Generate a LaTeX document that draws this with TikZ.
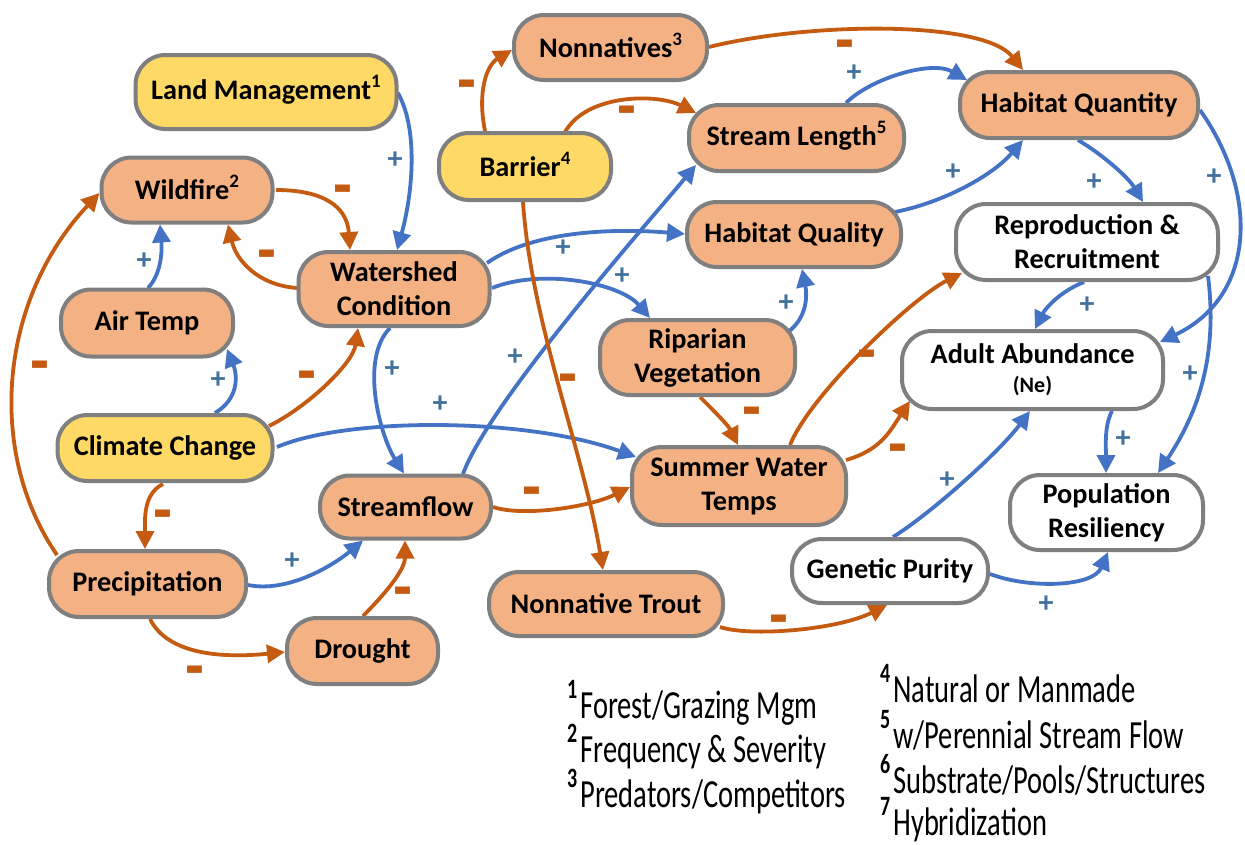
\documentclass[tikz,border=0pt]{standalone}
\usepackage{fontspec}
\setmainfont{Carlito}
\usepackage{graphicx}
\usetikzlibrary{arrows.meta,calc,backgrounds}
\definecolor{nodeorange}{RGB}{244,177,131}
\definecolor{nodeyellow}{RGB}{255,217,102}
\definecolor{bordergray}{RGB}{127,127,127}
\definecolor{edgeorange}{RGB}{197,90,17}
\definecolor{edgeblue}{RGB}{68,114,196}
\definecolor{plusblue}{RGB}{65,113,156}
\newcommand\nsup[1]{\smash{\raisebox{12pt}{\fontsize{19}{19}\selectfont #1}}}
\newcommand\legsup[1]{\smash{\raisebox{14pt}{\fontsize{20}{20}\selectfont\bfseries #1}}}
\newcommand\mneg{\smash{\raisebox{-20.5pt}{\scalebox{1.5}[3]{\bfseries\fontsize{28}{28}\selectfont –}}}}
\tikzset{
  box/.style={draw=bordergray, line width=4pt, rounded corners=30pt, inner sep=0pt,
    align=center, font=\bfseries\fontsize{28.3}{34}\selectfont},
  obox/.style={box, fill=nodeorange},
  ybox/.style={box, fill=nodeyellow},
  wbox/.style={box, fill=white},
  posedge/.style={draw=edgeblue, line width=3.8pt, -{Triangle[length=18pt,width=18pt]}},
  negedge/.style={draw=edgeorange, line width=3.8pt, -{Triangle[length=18pt,width=18pt]}},
  plab/.style={text=plusblue, inner sep=0pt, font=\bfseries\fontsize{30}{30}\selectfont},
  nlab/.style={text=edgeorange, inner sep=0pt},
  legend/.style={anchor=base west, inner sep=0pt, font=\fontsize{28.5}{30}\selectfont}
}
\begin{document}
\begin{tikzpicture}[x=1pt,y=-1pt]
\useasboundingbox (0,0) rectangle (1245,844);
% nodes
\node[ybox, minimum width=261pt, minimum height=74pt] (LM) at (266,92) {Land Management\nsup{1}};
\node[obox, minimum width=171pt, minimum height=65pt] (WF) at (187,190) {Wildfire\nsup{2}};
\node[obox, minimum width=191pt, minimum height=74pt] (WC) at (394,289) {Watershed\\Condition};
\node[obox, minimum width=172pt, minimum height=67pt] (AT) at (147,323) {Air Temp};
\node[ybox, minimum width=215pt, minimum height=66pt] (CC) at (165,448) {Climate Change};
\node[obox, minimum width=197pt, minimum height=66pt] (PR) at (147.5,584) {Precipitation};
\node[obox, minimum width=151pt, minimum height=66pt] (DR) at (362.5,651) {Drought};
\node[obox, minimum width=171pt, minimum height=63pt] (SF) at (405.5,507) {Streamflow};
\node[ybox, minimum width=172pt, minimum height=67pt] (BA) at (525,166.5) {Barrier\nsup{4}};
\node[obox, minimum width=193pt, minimum height=65pt] (NN) at (610.5,47.5) {Nonnatives\nsup{3}};
\node[obox, minimum width=215pt, minimum height=66pt] (SL) at (796.5,138) {Stream Length\nsup{5}};
\node[obox, minimum width=214pt, minimum height=65pt] (HQ) at (794,234.5) {Habitat Quality};
\node[obox, minimum width=238pt, minimum height=66pt] (HQn) at (1079,105) {Habitat Quantity};
\node[wbox, minimum width=262pt, minimum height=76pt] (RR) at (1087,242) {Reproduction \&\\Recruitment};
\node[obox, minimum width=195pt, minimum height=75pt] (RV) at (697.5,357.5) {Riparian\\Vegetation};
\node[obox, minimum width=214pt, minimum height=78pt] (SWT) at (739,486) {Summer Water\\Temps};
\node[wbox, minimum width=261pt, minimum height=78pt] (AA) at (1032.5,370) {Adult Abundance\\[-5pt]{\fontsize{22}{22}\selectfont (Ne)}};
\node[wbox, minimum width=193pt, minimum height=75pt] (PRS) at (1106.5,512.5) {Population\\Resiliency};
\node[wbox, minimum width=196pt, minimum height=64pt] (GP) at (890,571) {Genetic Purity};
\node[obox, minimum width=234pt, minimum height=64pt] (NT) at (606,604) {Nonnative Trout};

\begin{pgfonlayer}{background}
\fill[white] (0,0) rectangle (1245,844);
\draw[posedge] ($(LM.center)+(132,1)$) .. controls +(22,40) and +(14,-50) .. ($(WC.center)+(3,-39)$);
\draw[negedge] ($(WF.center)+(89,0)$) .. controls +(45,0) and +(-3,-45) .. ($(WC.center)+(-44,-39)$);
\draw[negedge] ($(WC.center)+(-97,-1)$) .. controls +(-40,-3) and +(8,35) .. ($(WF.center)+(41,34.5)$);
\draw[posedge] ($(AT.center)+(1,-35)$) .. controls +(14,-15) and +(2,25) .. ($(WF.center)+(-27,34.5)$);
\draw[negedge] ($(PR.center)+(-90.5,-29)$) .. controls +(-72,-105) and +(-99,105) .. ($(WF.center)+(-87.5,3)$);
\draw[posedge] ($(CC.center)+(50,-35)$) .. controls +(25,-15) and +(10,25) .. ($(AT.center)+(80,26)$);
\draw[negedge] ($(CC.center)+(104,-22)$) .. controls +(40,-20) and +(-5,35) .. ($(WC.center)+(-36,39)$);
\draw[posedge] ($(CC.center)+(112,-1)$) .. controls +(70,-30) and +(-110,-40) .. ($(SWT.center)+(-103,-29)$);
\draw[negedge] ($(CC.center)+(-2,36)$) .. controls +(-20,10) and +(0,-30) .. ($(PR.center)+(-2.5,-35)$);
\draw[posedge] ($(PR.center)+(100.5,1)$) .. controls +(40,8) and +(-30,25) .. ($(SF.center)+(-42.5,33.5)$);
\draw[negedge] ($(PR.center)+(2.5,35)$) .. controls +(20,40) and +(-50,5) .. ($(DR.center)+(-77.5,1)$);
\draw[negedge] ($(DR.center)+(0.5,-35)$) .. controls +(20,-20) and +(0,30) .. ($(SF.center)+(-0.5,33.5)$);
\draw[posedge] ($(WC.center)+(-4,39)$) .. controls +(-30,30) and +(-25,-40) .. ($(SF.center)+(-1.5,-33.5)$);
\draw[posedge] ($(WC.center)+(93,-26)$) .. controls +(50,-35) and +(-60,-5) .. ($(HQ.center)+(-109,-0.5)$);
\draw[posedge] ($(WC.center)+(98,-1)$) .. controls +(50,-20) and +(-30,-35) .. ($(RV.center)+(-47.5,-39.5)$);
\draw[posedge] ($(SF.center)+(57.5,-33)$) .. controls +(25,-70) and +(-50,60) .. ($(SL.center)+(-100.5,27)$);
\draw[negedge] ($(SF.center)+(87.5,0)$) .. controls +(30,10) and +(-40,20) .. ($(SWT.center)+(-109,1)$);
\draw[negedge] ($(BA.center)+(-40,-35.5)$) .. controls +(-8,-40) and +(-25,15) .. ($(NN.center)+(-98.5,2.5)$);
\draw[negedge] ($(BA.center)+(39,-32.5)$) .. controls +(20,-40) and +(-40,-20) .. ($(SL.center)+(-100.5,-25)$);
\draw[negedge] ($(BA.center)+(-2,35.5)$) .. controls +(8,120) and +(-20,-120) .. ($(NT.center)+(-3,-34)$);
\draw[negedge] ($(NN.center)+(98.5,-0.5)$) .. controls +(100,-25) and +(-40,-50) .. ($(HQn.center)+(-56,-35)$);
\draw[posedge] ($(SL.center)+(49.5,-35)$) .. controls +(25,-25) and +(-35,-20) .. ($(HQn.center)+(-112,-25)$);
\draw[posedge] ($(HQ.center)+(101,-22.5)$) .. controls +(50,-10) and +(-30,35) .. ($(HQn.center)+(-56,35)$);
\draw[posedge] ($(RV.center)+(90.5,-25.5)$) .. controls +(20,-15) and +(5,25) .. ($(HQ.center)+(8,34.5)$);
\draw[negedge] ($(RV.center)+(2.5,39.5)$) .. controls +(15,15) and +(-10,-20) .. ($(SWT.center)+(-1,-41)$);
\draw[negedge] ($(SWT.center)+(51,-41)$) .. controls +(20,-50) and +(-50,25) .. ($(RR.center)+(-125,31)$);
\draw[negedge] ($(SWT.center)+(107,-26)$) .. controls +(35,-10) and +(-20,30) .. ($(AA.center)+(-122.5,31)$);
\draw[posedge] ($(HQn.center)+(-1,35)$) .. controls +(25,15) and +(-15,-25) .. ($(RR.center)+(56,-40)$);
\draw[posedge] ($(HQn.center)+(121,5)$) .. controls +(60,85) and +(95,-45) .. ($(AA.center)+(127.5,-28)$);
\draw[posedge] ($(RR.center)+(-3,40)$) .. controls +(-25,10) and +(10,-20) .. ($(AA.center)+(2.5,-41)$);
\draw[posedge] ($(RR.center)+(121,34)$) .. controls +(10,80) and +(40,-60) .. ($(PRS.center)+(51.5,-39.5)$);
\draw[posedge] ($(AA.center)+(79.5,41)$) .. controls +(-8,15) and +(0,-25) .. ($(PRS.center)+(-0.5,-39.5)$);
\draw[posedge] ($(GP.center)+(3,-34)$) .. controls +(40,-25) and +(-30,40) .. ($(AA.center)+(-2.5,41)$);
\draw[posedge] ($(GP.center)+(100,3)$) .. controls +(40,15) and +(-15,35) .. ($(PRS.center)+(1.5,39.5)$);
\draw[negedge] ($(NT.center)+(114,23)$) .. controls +(30,10) and +(-50,25) .. ($(GP.center)+(-3,34)$);
\end{pgfonlayer}

% sign labels
\node[plab] (p1) at (395,160) {+};
\node[nlab] (m2) at (343,192) {\mneg};
\node[nlab] (m3) at (267,257) {\mneg};
\node[plab] (p4) at (144,261) {+};
\node[nlab] (m5) at (40,368) {\mneg};
\node[plab] (p6) at (218,380) {+};
\node[nlab] (m7) at (307,378) {\mneg};
\node[plab] (p8) at (440,404) {+};
\node[nlab] (m9) at (163,517) {\mneg};
\node[plab] (p10) at (292,561) {+};
\node[nlab] (m11) at (195,673) {\mneg};
\node[nlab] (m12) at (403,594) {\mneg};
\node[plab] (p13) at (392,369) {+};
\node[plab] (p14) at (563,248) {+};
\node[plab] (p15) at (622,276) {+};
\node[plab] (p16) at (515,357) {+};
\node[nlab] (m17) at (532,494) {\mneg};
\node[nlab] (m18) at (467,87) {\mneg};
\node[nlab] (m19) at (627,113) {\mneg};
\node[nlab] (m20) at (568,381) {\mneg};
\node[nlab] (m21) at (845,47) {\mneg};
\node[plab] (p22) at (854,73) {+};
\node[plab] (p23) at (953,172) {+};
\node[plab] (p24) at (786,303) {+};
\node[nlab] (m25) at (752,414) {\mneg};
\node[nlab] (m26) at (867,357) {\mneg};
\node[nlab] (m27) at (898,451) {\mneg};
\node[plab] (p28) at (1094,182) {+};
\node[plab] (p29) at (1214,177) {+};
\node[plab] (p30) at (1087,305) {+};
\node[plab] (p31) at (1190,374) {+};
\node[plab] (p32) at (1123,439) {+};
\node[plab] (p33) at (947,480) {+};
\node[plab] (p34) at (1046,604) {+};
\node[nlab] (m35) at (779,622) {\mneg};

% legend
\node[legend] (g1) at (567,718) {\scalebox{1}[1.4]{\legsup{1}\hspace{3pt}Forest/Grazing Mgm}};
\node[legend] (g2) at (567,762) {\scalebox{1}[1.4]{\legsup{2}\hspace{3pt}Frequency \& Severity}};
\node[legend] (g3) at (567,807) {\scalebox{1}[1.4]{\legsup{3}\hspace{3pt}Predators/Competitors}};
\node[legend] (g4) at (880,702) {\scalebox{1}[1.4]{\legsup{4}\hspace{3pt}Natural or Manmade}};
\node[legend] (g5) at (880,748) {\scalebox{1}[1.4]{\legsup{5}\hspace{3pt}w/Perennial Stream Flow}};
\node[legend] (g6) at (880,793) {\scalebox{1}[1.4]{\legsup{6}\hspace{3pt}Substrate/Pools/Structures}};
\node[legend] (g7) at (880,835) {\scalebox{1}[1.4]{\legsup{7}\hspace{3pt}Hybridization}};
\end{tikzpicture}
\end{document}
